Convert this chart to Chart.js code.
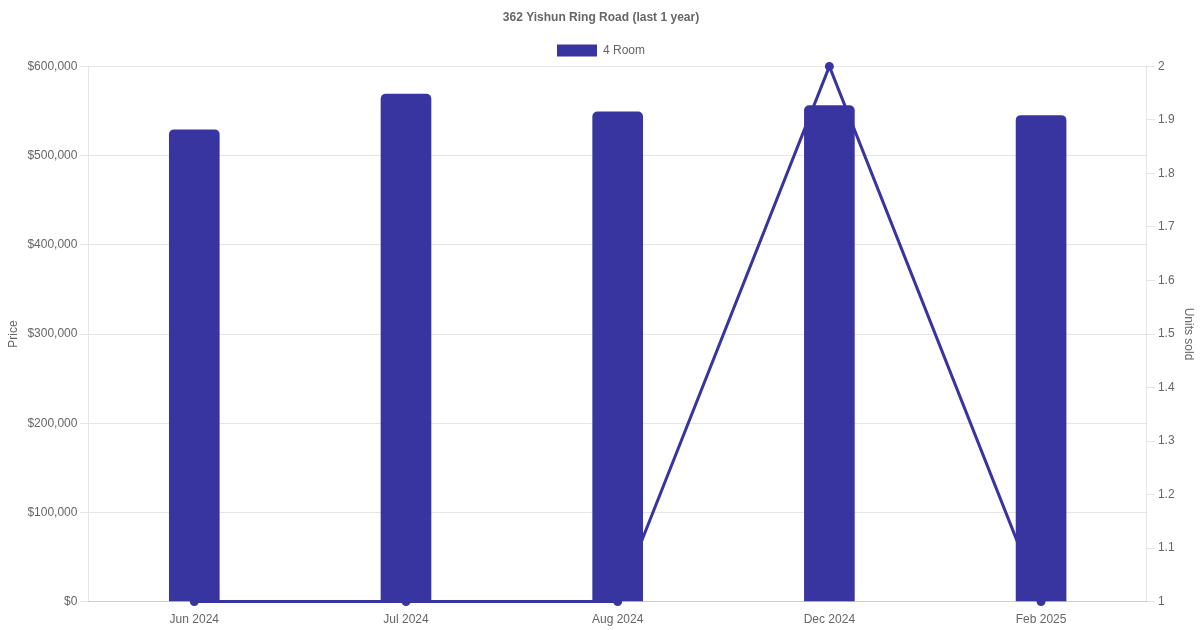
<!DOCTYPE html>
<html>
<head>
<meta charset="utf-8">
<script src="https://cdn.jsdelivr.net/npm/chart.js@4"></script>
<style>
  html, body { margin: 0; padding: 0; background: #fff; }
  #wrap { width: 1200px; height: 630px; }
</style>
</head>
<body>
<div id="wrap"><canvas id="chart"></canvas></div>
<script>
const months = ['Jun 2024', 'Jul 2024', 'Aug 2024', 'Dec 2024', 'Feb 2025'];
const prices = [529000, 569000, 549000, 556000, 545000];
const unitsSold = [1, 1, 1, 2, 1];

const barColor = '#3935a0';
Chart.defaults.font.family = "'Liberation Sans', Arial, Helvetica, sans-serif";
Chart.defaults.color = '#666';

new Chart(document.getElementById('chart').getContext('2d'), {
  data: {
    labels: months,
    datasets: [{
      type: 'bar',
      label: '4 Room',
      data: prices,
      backgroundColor: barColor,
      borderColor: barColor,
      borderRadius: 5,
      borderSkipped: 'bottom',
      barThickness: 50,
      yAxisID: 'y',
    }, {
      type: 'line',
      label: 'Units sold',
      data: unitsSold,
      borderColor: barColor,
      backgroundColor: barColor,
      borderWidth: 3,
      pointRadius: 3,
      tension: 0,
      clip: false,
      yAxisID: 'y1',
    }],
  },
  options: {
    responsive: true,
    maintainAspectRatio: false,
    animation: false,
    layout: { padding: { left: 2 } },
    plugins: {
      title: { display: true, text: '362 Yishun Ring Road (last 1 year)', font: { size: 12, weight: 'bold' }, color: '#666' },
      legend: { labels: { filter: item => item.text === '4 Room' } },
      tooltip: { enabled: false },
    },
    scales: {
      x: { grid: { display: false }, ticks: { color: '#666' } },
      y: {
        position: 'left', min: 0, max: 600000,
        ticks: { stepSize: 100000, callback: v => '$' + v.toLocaleString('en-US') },
        title: { display: true, text: 'Price' },
      },
      y1: {
        position: 'right', min: 1, max: 2,
        ticks: { stepSize: 0.1, callback: v => String(Number(v.toFixed(1))) },
        grid: { drawOnChartArea: false },
        title: { display: true, text: 'Units sold' },
      },
    },
  },
});
</script>
</body>
</html>
